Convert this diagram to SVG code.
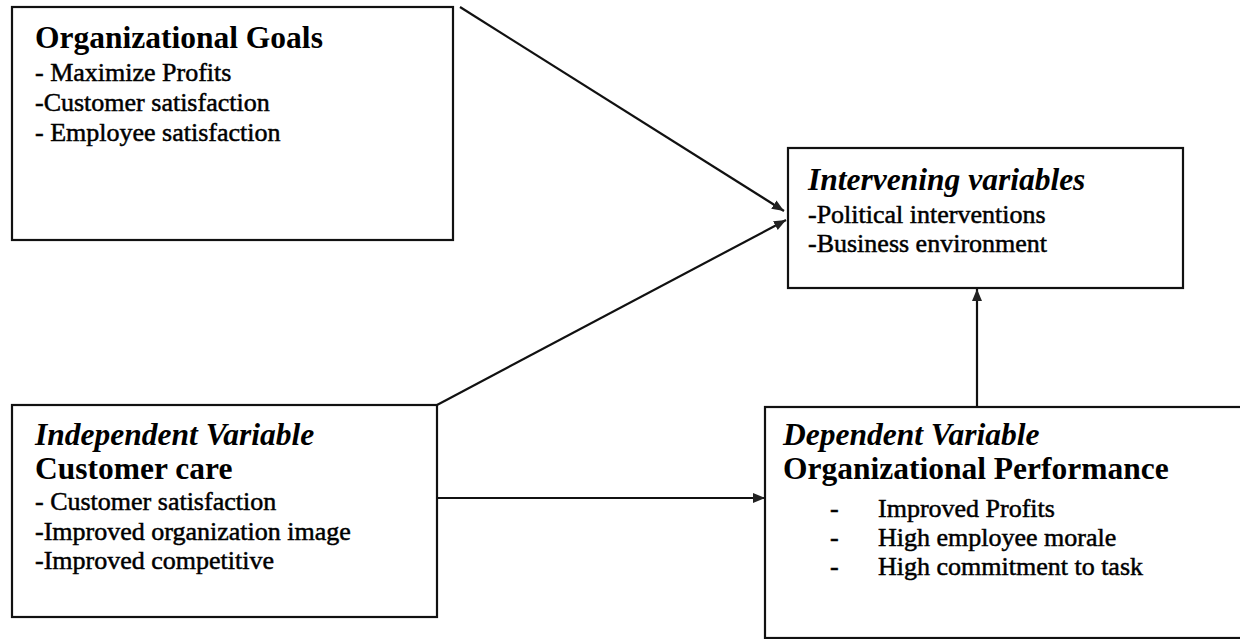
<svg xmlns="http://www.w3.org/2000/svg" width="1240" height="639" viewBox="0 0 1240 639">
<defs>
<style>
.box{fill:#fff;stroke:#111;stroke-width:2.2}
.conn{stroke:#111;stroke-width:2.2;fill:none}
text{font-family:"Liberation Serif","Times New Roman",serif;fill:#000}
.h{font-size:31.5px;font-weight:bold}
.hi{font-size:31.5px;font-weight:bold;font-style:italic}
.b{font-size:26px;stroke:#000;stroke-width:0.5}
</style>
<marker id="arr" markerUnits="userSpaceOnUse" markerWidth="14" markerHeight="12" refX="12" refY="5" orient="auto">
<path d="M0,0 L12,5 L0,10 Z" fill="#222"/>
</marker>
</defs>
<rect width="1240" height="639" fill="#fff"/>
<g id="connectors">
<line class="conn" x1="460" y1="7" x2="784" y2="211" marker-end="url(#arr)"/>
<line class="conn" x1="437" y1="405" x2="786" y2="220" marker-end="url(#arr)"/>
<line class="conn" x1="437" y1="498" x2="765" y2="498" marker-end="url(#arr)"/>
<line class="conn" x1="977" y1="407" x2="977" y2="289" marker-end="url(#arr)"/>
</g>
<g id="goals">
<rect class="box" x="12" y="7" width="441" height="233"/>
<text class="h" x="35" y="48">Organizational Goals</text>
<text class="b" x="35" y="81">- Maximize Profits</text>
<text class="b" x="35" y="111">-Customer satisfaction</text>
<text class="b" x="35" y="141">- Employee satisfaction</text>
</g>
<g id="intervening">
<rect class="box" x="788" y="148" width="395" height="140"/>
<text class="hi" x="808" y="190">Intervening variables</text>
<text class="b" x="808" y="223">-Political interventions</text>
<text class="b" x="808" y="252">-Business environment</text>
</g>
<g id="independent">
<rect class="box" x="12" y="405" width="425" height="212"/>
<text class="hi" x="35" y="445">Independent Variable</text>
<text class="h" x="35" y="479">Customer care</text>
<text class="b" x="35" y="510">- Customer satisfaction</text>
<text class="b" x="35" y="540">-Improved organization image</text>
<text class="b" x="35" y="569">-Improved competitive</text>
</g>
<g id="dependent">
<rect class="box" x="765" y="407" width="500" height="231"/>
<text class="hi" x="783" y="445">Dependent Variable</text>
<text class="h" x="783" y="479">Organizational Performance</text>
<text class="b" x="830" y="517">-</text>
<text class="b" x="878" y="517">Improved Profits</text>
<text class="b" x="830" y="546">-</text>
<text class="b" x="878" y="546">High employee morale</text>
<text class="b" x="830" y="575">-</text>
<text class="b" x="878" y="575">High commitment to task</text>
</g>
</svg>
